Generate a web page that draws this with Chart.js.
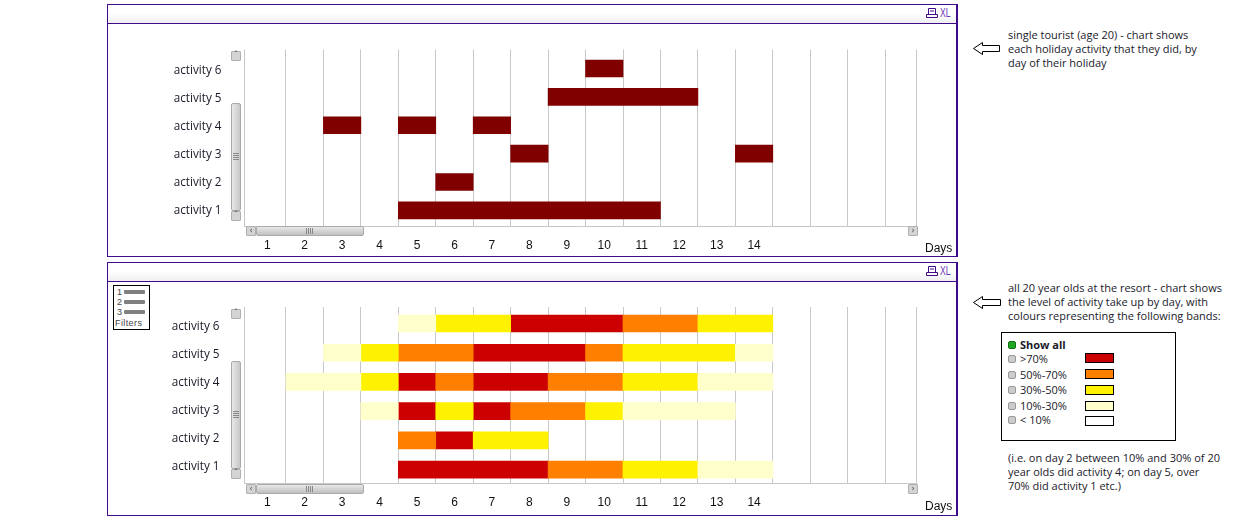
<!DOCTYPE html>
<html>
<head>
<meta charset="utf-8">
<script src="https://cdn.jsdelivr.net/npm/chart.js@4"></script>
<style>
  html, body { margin: 0; padding: 0; background: #fff; width: 1252px; height: 522px; overflow: hidden; }
  div, svg, canvas { position: absolute; box-sizing: border-box; }
  .panel { left: 107px; width: 851px; border: 1px solid #3f0a8c; border-right-width: 2px; }
  .head { left: 0; right: 0; height: 10px; background: linear-gradient(#fff, #efefef); }
  .rule { left: 0; right: 0; height: 1px; background: #3f0a8c; }
  .xl { font: 12px "Liberation Sans", sans-serif; color: #6a3ab8; transform: scaleX(.72); transform-origin: left top; }
  .days { font: 12px "Liberation Sans", sans-serif; color: #111; }
  .note { font: 11px/14px "Open Sans", sans-serif; color: #1a1a2a; white-space: nowrap; }
  .btn { width: 10px; height: 10px; background: #d4d4d4; border: 1px solid #b0b0b0; border-radius: 1px; font: 8px/8px "DejaVu Sans", sans-serif; color: #444; text-align: center; }
  .thumb { background: linear-gradient(90deg, #e8e8e8, #c8c8c8); border: 1px solid #aaa; border-radius: 2px; }
  .thumbh { background: linear-gradient(#e8e8e8, #c0c0c0); border: 1px solid #aaa; border-radius: 2px; }
  .grip { background: repeating-linear-gradient(#888 0 1px, transparent 1px 2px); width: 6px; height: 7px; left: 1px; }
  .griph { background: repeating-linear-gradient(90deg, #888 0 1px, transparent 1px 2px); width: 7px; height: 6px; top: 1px; }
  .legend { left: 1001px; top: 332px; width: 175px; height: 109px; border: 1px solid #000; }
  .tick { width: 8px; height: 8px; left: 6px; background: #ccc; border: 1px solid #999; border-radius: 2px; }
  .swatch { left: 83px; width: 29px; height: 10px; border: 1px solid #000; }
  .item { left: 18px; font: 11px "Open Sans", sans-serif; color: #1a1a2a; white-space: nowrap; }
  .filters { left: 113px; top: 285px; width: 37px; height: 45px; border: 1px solid #000; background: #fff; font: 9px "Liberation Sans", sans-serif; color: #444; }
  .filters i { position: absolute; left: 10px; width: 21px; height: 4px; background: #808080; border-radius: 1px; }
  .filters span { position: absolute; left: 3px; }
</style>
</head>
<body>
<div class="panel" style="top:4px;height:253px">
  <div class="head" style="top:8px"></div><div class="rule" style="top:18px"></div>
  <div class="xl" style="left:832px;top:1px">XL</div>
</div>
<div class="panel" style="top:262px;height:254px">
  <div class="head" style="top:8px"></div><div class="rule" style="top:18px"></div>
  <div class="xl" style="left:832px;top:1px">XL</div>
</div>

<canvas id="touristChart" width="848" height="229" style="left:108px;top:26px"></canvas>
<canvas id="resortChart" width="848" height="230" style="left:108px;top:284px"></canvas>

<div class="days" style="left:925px;top:241px">Days</div>
<div class="days" style="left:925px;top:499px">Days</div>

<svg style="left:925px;top:7px" width="13" height="13"><path d="M3.5 1.5h7v6h-7zM1.5 10.5h11v-3h-11z M5 4h4" fill="none" stroke="#3f0a8c"/></svg>
<svg style="left:925px;top:265px" width="13" height="13"><path d="M3.5 1.5h7v6h-7zM1.5 10.5h11v-3h-11z M5 4h4" fill="none" stroke="#3f0a8c"/></svg>

<!-- scrollbars, top panel -->
<div class="btn" style="left:231px;top:51px">&#710;</div>
<div class="thumb" style="left:231px;top:103px;width:10px;height:108px"><div class="grip" style="top:49px"></div></div>
<div class="btn" style="left:231px;top:211px">&#711;</div>
<div class="btn" style="left:246px;top:226px">&#8249;</div>
<div class="thumbh" style="left:256px;top:226px;width:108px;height:10px"><div class="griph" style="left:49px"></div></div>
<div class="btn" style="left:908px;top:226px">&#8250;</div>
<!-- scrollbars, bottom panel -->
<div class="btn" style="left:231px;top:309px">&#710;</div>
<div class="thumb" style="left:231px;top:361px;width:10px;height:108px"><div class="grip" style="top:49px"></div></div>
<div class="btn" style="left:231px;top:469px">&#711;</div>
<div class="btn" style="left:246px;top:484px">&#8249;</div>
<div class="thumbh" style="left:256px;top:484px;width:108px;height:10px"><div class="griph" style="left:49px"></div></div>
<div class="btn" style="left:908px;top:484px">&#8250;</div>

<div class="filters">
  <span style="top:1px">1</span><i style="top:4px"></i>
  <span style="top:11px">2</span><i style="top:14px"></i>
  <span style="top:21px">3</span><i style="top:24px"></i>
  <span style="top:32px;left:1px;letter-spacing:.4px">Filters</span>
</div>

<svg style="left:972px;top:41px" width="30" height="16"><path d="M1.5 7.5L10.5 1.5V4.5H27.5V10.5H10.5V13.5Z" fill="#fff" stroke="#000"/></svg>
<svg style="left:972px;top:295px" width="30" height="16"><path d="M1.5 7.5L10.5 1.5V4.5H28.5V10.5H10.5V13.5Z" fill="#fff" stroke="#000"/></svg>

<div class="note" style="left:1008px;top:28px">single tourist (age 20) - chart shows<br>each holiday activity that they did, by<br>day of their holiday</div>
<div class="note" style="left:1008px;top:281px">all 20 year olds at the resort - chart shows<br>the level of activity take up by day, with<br>colours representing the following bands:</div>
<div class="note" style="left:1008px;top:451px">(i.e. on day 2 between 10% and 30% of 20<br>year olds did activity 4; on day 5, over<br>70% did activity 1 etc.)</div>

<div class="legend" id="legendBox"></div>

<script>
const dayLabels = ['1', '2', '3', '4', '5', '6', '7', '8', '9', '10', '11', '12', '13', '14'];
const activityNames = ['activity 1', 'activity 2', 'activity 3', 'activity 4', 'activity 5', 'activity 6'];

// single tourist: 1 = did the activity that day, one row per activity
const touristActivity1 = [0, 0, 0, 0, 1, 1, 1, 1, 1, 1, 1, 0, 0, 0];
const touristActivity2 = [0, 0, 0, 0, 0, 1, 0, 0, 0, 0, 0, 0, 0, 0];
const touristActivity3 = [0, 0, 0, 0, 0, 0, 0, 1, 0, 0, 0, 0, 0, 1];
const touristActivity4 = [0, 0, 1, 0, 1, 0, 1, 0, 0, 0, 0, 0, 0, 0];
const touristActivity5 = [0, 0, 0, 0, 0, 0, 0, 0, 1, 1, 1, 1, 0, 0];
const touristActivity6 = [0, 0, 0, 0, 0, 0, 0, 0, 0, 1, 0, 0, 0, 0];

// all 20 year olds: band per day, 0 none, 1 10-30, 2 30-50, 3 50-70, 4 >70
const resortActivity1 = [0, 0, 0, 0, 4, 4, 4, 4, 3, 3, 2, 2, 1, 1];
const resortActivity2 = [0, 0, 0, 0, 3, 4, 2, 2, 0, 0, 0, 0, 0, 0];
const resortActivity3 = [0, 0, 0, 1, 4, 2, 4, 3, 3, 2, 1, 1, 1, 0];
const resortActivity4 = [0, 1, 1, 2, 4, 3, 4, 4, 3, 3, 2, 2, 1, 1];
const resortActivity5 = [0, 0, 1, 2, 3, 3, 4, 4, 4, 3, 2, 2, 2, 1];
const resortActivity6 = [0, 0, 0, 0, 1, 2, 2, 4, 4, 4, 3, 3, 2, 2];

const touristLabels = ['', 'Activity done'];
const touristColors = ['#ffffff', '#800000'];
const bandLabels = ['< 10%', '10%-30%', '30%-50%', '50%-70%', '>70%'];
const bandColors = ['#ffffff', '#ffffcc', '#fff200', '#ff8000', '#cc0000'];

const xMin = -0.107;
const xMax = 17.837;

// merge runs of equal level into floating bars, one dataset per level
function buildDatasets(rows, labels, colors) {
  return labels.map((label, level) => {
    const data = [];
    rows.forEach((row, r) => {
      let start = null;
      row.concat([-1]).forEach((value, d) => {
        if (start !== null && value !== level) {
          data.push({ x: [start, d], y: r + 1 });
          start = null;
        }
        if (start === null && value === level) start = d;
      });
    });
    return { label: label, data: level === 0 ? [] : data, backgroundColor: colors[level], borderWidth: 0, grouped: false, barThickness: 17 };
  }).slice(1);
}

function noEdgePadding(scale) {
  scale.paddingTop = 0;
  scale.paddingBottom = 0;
  scale.paddingLeft = 0;
  scale.paddingRight = 0;
}

function drawGantt(id, datasets, yMin, yMax, nameMin, nameMax, daysHeight, namePadding, topPad) {
  new Chart(id, {
    type: 'bar',
    data: { datasets: datasets },
    options: {
      indexAxis: 'y',
      responsive: false,
      animation: false,
      devicePixelRatio: 1,
      layout: { padding: { top: topPad, right: 39.5, left: 0, bottom: 0 } },
      plugins: { legend: { display: false }, tooltip: { enabled: false } },
      scales: {
        x: {
          type: 'linear',
          min: xMin,
          max: xMax,
          position: 'bottom',
          grid: { color: '#c8c8c8', lineWidth: 1, drawTicks: false },
          border: { color: '#c8c8c8' },
          afterBuildTicks: (scale) => {
            const inner = [];
            for (let d = 1; d <= 17; d++) inner.push({ value: d });
            scale.ticks = [{ value: xMin }].concat(inner, [{ value: xMax }]);
          },
          ticks: { display: false },
          afterFit: (scale) => { noEdgePadding(scale); scale.height = 0; },
        },
        xDays: {
          type: 'linear',
          min: xMin,
          max: xMax,
          position: 'bottom',
          grid: { display: false, drawTicks: false },
          border: { display: false },
          afterBuildTicks: (scale) => { scale.ticks = dayLabels.map((_, i) => ({ value: i + 0.5 })); },
          ticks: {
            autoSkip: false,
            maxRotation: 0,
            padding: 12,
            color: '#111',
            font: { family: 'Liberation Sans', size: 12 },
            callback: (value) => dayLabels[Math.floor(value)],
          },
          afterFit: (scale) => { noEdgePadding(scale); scale.height = daysHeight; },
        },
        y: { type: 'linear', min: yMin, max: yMax, display: false, offset: false, grid: { offset: false } },
        yNames: {
          type: 'linear',
          min: nameMin,
          max: nameMax,
          position: 'left',
          offset: false,
          grid: { display: false, drawTicks: false, offset: false },
          border: { display: false },
          afterBuildTicks: (scale) => { scale.ticks = activityNames.map((_, i) => ({ value: i + 1 })); },
          ticks: {
            autoSkip: false,
            padding: namePadding,
            color: '#1a1a2a',
            font: { family: 'Open Sans', size: 11.7 },
            callback: (value) => activityNames[value - 1],
          },
          afterFit: (scale) => { noEdgePadding(scale); scale.width = 136.5; },
        },
      },
    },
  });
}

const touristRows = [touristActivity1, touristActivity2, touristActivity3, touristActivity4, touristActivity5, touristActivity6];
const resortRows = [resortActivity1, resortActivity2, resortActivity3, resortActivity4, resortActivity5, resortActivity6];

drawGantt('touristChart', buildDatasets(touristRows, touristLabels, touristColors), 0.45, 6.67, 0.466, 6.746, 29, 23, 23.5);
drawGantt('resortChart', buildDatasets(resortRows, bandLabels, bandColors), 0.54, 6.565, 0.426, 6.716, 31, 25, 23);

// legend box next to the lower chart
const legendBox = document.getElementById('legendBox');
const legendOrder = [4, 3, 2, 1, 0];
const tickTops = [22, 38, 53, 69, 83];
const swatchTops = [20, 36, 52, 68, 83];
let legendHtml = '<div class="tick" style="top:8px;background:#22a722;border-color:#127012"></div>' +
  '<div class="item" style="top:4px;font-weight:700">Show all</div>';
legendOrder.forEach((level, i) => {
  legendHtml += '<div class="tick" style="top:' + tickTops[i] + 'px"></div>' +
    '<div class="item" style="top:' + (tickTops[i] - 4) + 'px">' + bandLabels[level].replace('<', '&lt;') + '</div>' +
    '<div class="swatch" style="top:' + swatchTops[i] + 'px;background:' + bandColors[level] + '"></div>';
});
legendBox.innerHTML = legendHtml;
</script>
</body>
</html>
